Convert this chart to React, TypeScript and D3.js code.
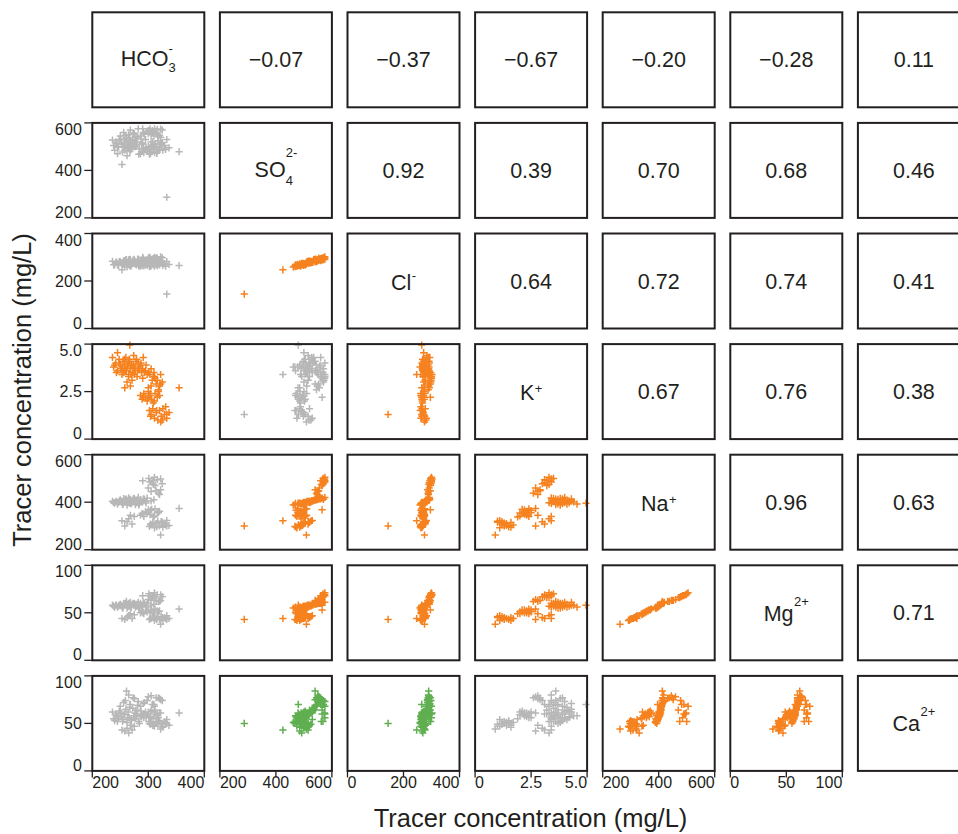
import React from 'react';
import * as d3 from 'd3';

// ---- data: one value per sample, same order in every array ----
const hco3 = [
  238,242,245,248,250,252,255,256,258,260,261,262,264,265,266,268,270,272,274,275,277,278,280,282,284,286,288,291,295,298,
  240,243,247,251,254,257,259,263,267,269,273,276,279,281,283,287,290,293,296,236,
  318,305,322,300,312,325,303,309,316,301,311,320,
  307,314,322,309,
  286,289,292,295,298,300,303,306,309,312,316,320,
  291,304,311,318,
  302,305,308,311,314,317,320,323,326,329,333,337,
  304,315,325,331,
  258,262,265,268,271,275,
  333,355,267,322,253,245,290,305,310,300,
];
const so4 = [
  505,520,470,530,545,510,498,560,515,535,540,462,525,550,505,570,495,530,515,555,500,540,520,575,490,545,510,560,530,565,
  485,512,498,528,478,518,548,508,538,488,558,522,503,542,468,532,515,552,497,528,
  545,550,540,555,565,570,575,560,572,568,575,548,
  568,553,574,562,
  470,480,475,490,485,500,495,505,488,510,478,498,
  492,472,502,486,
  468,480,520,475,500,525,490,515,485,505,530,495,
  498,472,518,488,
  485,500,492,510,515,505,
  287,479,480,509,425,500,575,520,545,565,
];
const cl = [
  268,279,268,282,281,275,271,286,277,290,290,259,276,289,272,290,269,283,284,291,271,280,279,292,267,288,281,294,283,289,
  268,280,266,278,270,284,285,270,291,262,288,284,268,292,264,278,282,286,274,283,
  288,290,286,292,296,298,300,294,298,297,300,289,
  292,296,302,291,
  262,266,264,268,267,272,270,274,268,276,265,271,
  274,262,268,272,
  260,265,278,262,271,280,268,276,266,273,282,270,
  266,268,274,262,
  266,272,269,276,277,274,
  145,265,265,275,247,272,300,280,287,296,
];
const k = [
  3.8,4.0,3.6,4.2,3.9,3.7,4.1,3.5,3.9,4.3,3.6,3.8,4.0,3.4,4.2,3.7,3.9,3.5,4.4,3.8,3.6,4.1,3.3,4.0,3.7,3.9,3.5,4.3,3.6,3.4,
  3.9,3.5,4.0,3.7,3.8,4.2,3.6,3.9,4.1,3.4,3.9,3.7,4.2,3.6,3.8,4.0,3.7,3.5,3.9,4.3,
  2.6,2.8,2.9,2.7,3.2,3.0,3.4,3.3,3.1,3.5,3.3,2.8,
  3.1,2.9,3.4,3.3,
  2.3,2.1,2.4,2.2,2.0,2.5,2.3,2.1,1.9,2.4,2.2,2.3,
  2.2,2.4,2.0,2.5,
  1.5,1.3,1.6,1.1,1.4,1.0,1.5,1.2,1.6,1.3,1.1,1.4,
  1.2,1.5,1.0,1.7,
  2.7,3.0,3.3,2.8,3.1,3.4,
  1.3,2.7,4.95,0.9,3.4,4.55,3.2,3.7,3.5,2.2,
];
const na = [
  398,402,395,405,410,400,392,415,403,408,413,388,400,418,397,412,394,406,401,416,390,409,398,420,393,411,402,414,404,417,
  396,404,399,407,391,405,412,398,409,395,414,403,399,410,389,406,401,413,397,404,
  438,445,452,460,470,478,485,490,495,500,505,432,
  482,448,498,475,
  345,352,340,360,355,365,348,370,338,372,358,362,
  350,366,342,356,
  298,305,315,292,310,320,300,318,295,312,323,302,
  308,296,316,304,
  300,318,330,345,308,340,
  300,374,396,262,322,392,490,405,410,368,
];
const mg = [
  57,58,56,58,59,57,56,60,58,59,62,55,57,60,57,61,56,59,58,60,56,59,57,61,55,60,57,61,58,60,
  56,58,57,58,55,58,60,57,59,56,60,58,57,59,55,58,57,60,56,58,
  62,63,63,64,66,67,68,68,69,70,71,62,
  67,63,69,66,
  50,51,49,52,51,53,50,53,49,54,52,52,
  50,53,49,51,
  43,44,45,42,44,46,43,46,42,45,47,44,
  44,43,45,44,
  43,45,47,49,44,48,
  43,54,58,38,44,56,68,58,59,53,
];
const ca = [
  55,60,52,63,68,57,54,72,59,65,84,51,62,80,56,70,53,66,58,76,55,64,60,73,50,68,57,71,62,74,
  53,58,55,61,52,60,74,56,67,54,77,61,57,69,52,63,59,72,56,62,
  77,79,75,78,64,74,56,70,60,52,68,76,
  70,77,61,52,
  58,60,56,61,59,62,57,63,55,60,58,61,
  59,57,62,56,
  50,52,48,47,51,49,53,50,46,52,54,48,
  49,52,47,51,
  42,45,40,48,43,47,
  50,61,70,44,43,58,60,64,70,60,
];

const series = [hco3, so4, cl, k, na, mg, ca];

const labelBase = ['HCO', 'SO', 'Cl', 'K', 'Na', 'Mg', 'Ca'];
const labelSub = ['3', '4', '', '', '', '', ''];
const labelSup = ['-', '2-', '-', '+', '+', '2+', '2+'];

const domains: [number, number][] = [[200, 400], [200, 600], [0, 400], [0, 5], [200, 600], [0, 100], [0, 100]];
const tickValues = [[200, 300, 400], [200, 400, 600], [0, 200, 400], [0, 2.5, 5], [200, 400, 600], [0, 50, 100], [0, 50, 100]];
const tickLabels = [['200', '300', '400'], ['200', '400', '600'], ['0', '200', '400'], ['0', '2.5', '5.0'], ['200', '400', '600'], ['0', '50', '100'], ['0', '50', '100']];

const corrUpper = [
  [-0.07, -0.37, -0.67, -0.20, -0.28, 0.11],
  [0.92, 0.39, 0.70, 0.68, 0.46],
  [0.64, 0.72, 0.74, 0.41],
  [0.67, 0.76, 0.38],
  [0.96, 0.63],
  [0.71],
];

const pointColors = [
  ['gray'],
  ['gray', 'orange'],
  ['orange', 'gray', 'orange'],
  ['gray', 'orange', 'orange', 'orange'],
  ['gray', 'orange', 'orange', 'orange', 'orange'],
  ['gray', 'green', 'green', 'gray', 'orange', 'orange'],
];

const axisTitle = 'Tracer concentration (mg/L)';

// ---- styling ----
const W = 958, H = 834;
const colX0 = 92.3, colStep = 127.6, panelW = 112;
const rowY0 = 12.3, rowStep = 110.6, panelH = 95;
const ink = '#231f20';
const palette: Record<string, string> = { gray: '#b7b7b7', orange: '#f5821f', green: '#5fae50' };
const font = '"Liberation Sans", Arial, Helvetica, sans-serif';
const n = series.length;
// vertical offsets (px) of subscripts / superscripts relative to the main baseline
const subOffset = [6.5, 8, 0, 0, 0, 0, 0];
const supOffset = [-13, -20, -10, -7, -7, -15, -15];
const labelBaseline = [53.5, 54.5, 56, 56, 56, 56, 55];

const fmt = d3.format('.2f');
const fmtCorr = (v: number) => fmt(v).replace('-', '\u2212');

function xScale(v: number, col: number) {
  const x0 = colX0 + col * colStep;
  return d3.scaleLinear().domain(domains[v]).range([x0, x0 + panelW]);
}
function yScale(v: number, row: number) {
  const y0 = rowY0 + row * rowStep;
  return d3.scaleLinear().domain(domains[v]).range([y0 + panelH, y0]);
}

function plusPath(xs: number[], ys: number[], sx: d3.ScaleLinear<number, number>, sy: d3.ScaleLinear<number, number>) {
  const s = 3.6;
  let d = '';
  const m = Math.min(xs.length, ys.length);
  for (let i = 0; i < m; i++) {
    const px = sx(xs[i]), py = sy(ys[i]);
    d += `M${(px - s).toFixed(2)},${py.toFixed(2)}h${2 * s}M${px.toFixed(2)},${(py - s).toFixed(2)}v${2 * s}`;
  }
  return d;
}

export default function App() {
  const panels: React.ReactNode[] = [];
  for (let i = 0; i < n; i++) {
    for (let j = 0; j < n; j++) {
      const x0 = colX0 + j * colStep;
      const y0 = rowY0 + i * rowStep;
      const key = `${i}-${j}`;
      let content: React.ReactNode = null;
      if (i > j) {
        const sx = xScale(j, j);
        const sy = yScale(i, i);
        content = (
          <path d={plusPath(series[j], series[i], sx, sy)} stroke={palette[pointColors[i - 1][j]]}
            strokeWidth={1.5} fill="none" />
        );
      } else if (i < j) {
        content = (
          <text x={x0 + panelW / 2} y={y0 + 55} textAnchor="middle" fontSize={21.5} fill={ink} fontFamily={font}>
            {fmtCorr(corrUpper[i][j - i - 1])}
          </text>
        );
      } else {
        const hasSub = labelSub[i] !== '';
        content = (
          <text x={x0 + panelW / 2} y={y0 + labelBaseline[i]} textAnchor="middle" fontSize={21.5} fill={ink} fontFamily={font}>
            <tspan>{labelBase[i]}</tspan>
            {hasSub && <tspan fontSize={13} dy={subOffset[i]}>{labelSub[i]}</tspan>}
            <tspan fontSize={13} dx={hasSub ? -7.2 : 0.5} dy={supOffset[i] - subOffset[i]}>{labelSup[i]}</tspan>
          </text>
        );
      }
      panels.push(
        <g key={key}>
          {content}
          <rect x={x0} y={y0} width={panelW} height={panelH} fill="none" stroke={ink} strokeWidth={2} />
        </g>
      );
    }
  }

  // y axes on the left of the first column (rows 1..6)
  const yAxes: React.ReactNode[] = [];
  for (let i = 1; i < n; i++) {
    const sy = yScale(i, i);
    tickValues[i].forEach((t, ti) => {
      const y = sy(t);
      const last = tickValues[i].length - 1;
      const baseline = ti === last ? y + 12 : ti === 0 ? y : y + 5.7;
      yAxes.push(
        <g key={`y${i}-${ti}`}>
          <line x1={colX0 - 8} x2={colX0} y1={y} y2={y} stroke={ink} strokeWidth={1.3} />
          <text x={colX0 - 10.5} y={baseline} textAnchor="end" fontSize={16} fill={ink} fontFamily={font}>
            {tickLabels[i][ti]}
          </text>
        </g>
      );
    });
  }

  // x axes under the last row (cols 0..5)
  const xAxes: React.ReactNode[] = [];
  const bottom = rowY0 + (n - 1) * rowStep + panelH;
  for (let j = 0; j < n - 1; j++) {
    const sx = xScale(j, j);
    tickValues[j].forEach((t, ti) => {
      const x = sx(t);
      const last = tickValues[j].length - 1;
      const anchor = ti === 0 ? 'start' : ti === last ? 'end' : 'middle';
      xAxes.push(
        <g key={`x${j}-${ti}`}>
          <line x1={x} x2={x} y1={bottom} y2={bottom + 6.5} stroke={ink} strokeWidth={1.3} />
          <text x={x} y={bottom + 17.5} textAnchor={anchor} fontSize={16} fill={ink} fontFamily={font}>
            {tickLabels[j][ti]}
          </text>
        </g>
      );
    });
  }

  return (
    <svg width={W} height={H} style={{ position: 'absolute', left: 0, top: 0, background: '#fff' }}>
      <rect x={0} y={0} width={W} height={H} fill="#fff" />
      {panels}
      {yAxes}
      {xAxes}
      <text x={530.5} y={827} textAnchor="middle" fontSize={25.5} fill={ink} fontFamily={font}>{axisTitle}</text>
      <text transform={`translate(31,390) rotate(-90)`} textAnchor="middle" fontSize={25.5} fill={ink} fontFamily={font}>{axisTitle}</text>
    </svg>
  );
}
